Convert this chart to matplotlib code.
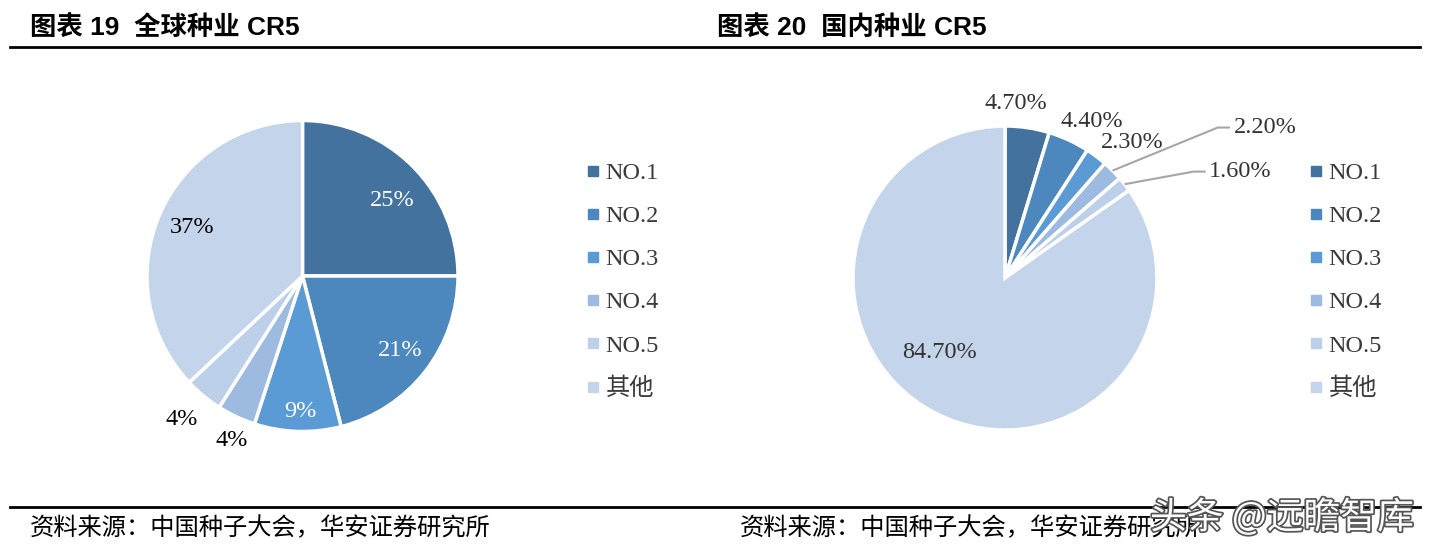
import numpy as np
import matplotlib.pyplot as plt
import matplotlib.patheffects as pe
from matplotlib.lines import Line2D

plt.rcParams['font.family'] = ['Liberation Serif', 'Noto Sans CJK SC']

labels = ['NO.1', 'NO.2', 'NO.3', 'NO.4', 'NO.5', '其他']
colors = ['#44729E', '#4C87BE', '#5B9BD5', '#9DBAE0', '#BDD0EA', '#C4D4EA']

global_share = [25, 21, 9, 4, 4, 37]
global_text = ['25%', '21%', '9%', '4%', '4%', '37%']
domestic_share = [4.7, 4.4, 2.3, 2.2, 1.6, 84.7]
domestic_text = ['4.70%', '4.40%', '2.30%', '2.20%', '1.60%', '84.70%']

W, H = 1432, 552
fig = plt.figure(figsize=(W / 100, H / 100), dpi=100)


def pie_axes(cx, cy, r):
    half = 1.3 * r
    ax = fig.add_axes([(cx - half) / W, (H - cy - half) / H, 2 * half / W, 2 * half / H])
    return ax


def fix_limits(ax):
    ax.set_xlim(-1.3, 1.3)
    ax.set_ylim(-1.3, 1.3)
    ax.set_aspect('equal')
    ax.axis('off')


# left pie
ax1 = pie_axes(302.5, 276, 155.5)
w1, _ = ax1.pie(global_share, colors=colors, startangle=90, counterclock=False,
                wedgeprops=dict(edgecolor='white', linewidth=2.5))
fix_limits(ax1)
pos1 = [(0.577, 0.484), (0.627, -0.476), (-0.016, -0.873),
        (-0.455, -1.061), (-0.777, -0.922), (-0.713, 0.313)]
txtcol1 = ['white', 'white', 'white', 'black', 'black', 'black']
for t, (x, y), c in zip(global_text, pos1, txtcol1):
    ax1.text(x, y, t, ha='center', va='center', fontsize=17.5, color=c)

# right pie
ax2 = pie_axes(1005, 278, 152)
w2, _ = ax2.pie(domestic_share, colors=colors, startangle=90, counterclock=False,
                wedgeprops=dict(edgecolor='white', linewidth=2.5))
fix_limits(ax2)
pos2 = [(0.07, 1.15), (0.57, 1.03), (0.84, 0.89), (1.71, 0.99), (1.55, 0.70), (-0.43, -0.49)]
for t, (x, y) in zip(domestic_text, pos2):
    ax2.text(x, y, t, ha='center', va='center', fontsize=17.5, color='#333333')
# leader lines for the two small slices
for i, (x, y) in [(3, (1.71, 0.99)), (4, (1.55, 0.70))]:
    w = w2[i]
    a = np.deg2rad((w.theta1 + w.theta2) / 2)
    x0, y0 = 1.0 * np.cos(a), 1.0 * np.sin(a)
    ax2.plot([x0, x - 0.31, x - 0.23], [y0, y, y], color='#A6A6A6', lw=1.5,
             solid_capstyle='butt', clip_on=False)

# legends
handles = [Line2D([], [], marker='s', ls='none', markersize=7, color=c) for c in colors]
for lx in (586, 1309):
    fig.legend(handles, labels, loc='upper left',
               bbox_to_anchor=(lx / W, 1 - 162 / H), frameon=False,
               fontsize=17.5, labelspacing=0.87, handlelength=0.6,
               handletextpad=0.2, borderpad=0, borderaxespad=0,
               labelcolor='#3a3a3a')

# titles and rules
title_font = ['Liberation Sans', 'Noto Sans CJK SC']
fig.text(30 / W, 1 - 27 / H, '图表 19  全球种业 CR5', fontsize=19, fontweight='bold',
         family=title_font, va='center', ha='left')
fig.text(717 / W, 1 - 27 / H, '图表 20  国内种业 CR5', fontsize=19, fontweight='bold',
         family=title_font, va='center', ha='left')
fig.add_artist(Line2D([10 / W, 1420 / W], [1 - 47 / H, 1 - 47 / H], color='black', lw=2))
fig.add_artist(Line2D([10 / W, 1420 / W], [1 - 507 / H, 1 - 507 / H], color='black', lw=2))

src_font = ['Noto Sans CJK SC']
fig.text(30 / W, 1 - 528 / H, '资料来源：中国种子大会，华安证券研究所', fontsize=17.5,
         family=src_font, va='center', ha='left')
fig.text(740 / W, 1 - 528 / H, '资料来源：中国种子大会，华安证券研究所', fontsize=17.5,
         family=src_font, va='center', ha='left')

# watermark
fig.text(1150 / W, 1 - 518 / H, '头条 @远瞻智库', fontsize=26.5, family=['Noto Sans CJK SC'],
         color='white', va='center', ha='left',
         path_effects=[pe.withStroke(linewidth=2.5, foreground='#555555')])

fig.savefig('out.png', dpi=100, facecolor='white')
